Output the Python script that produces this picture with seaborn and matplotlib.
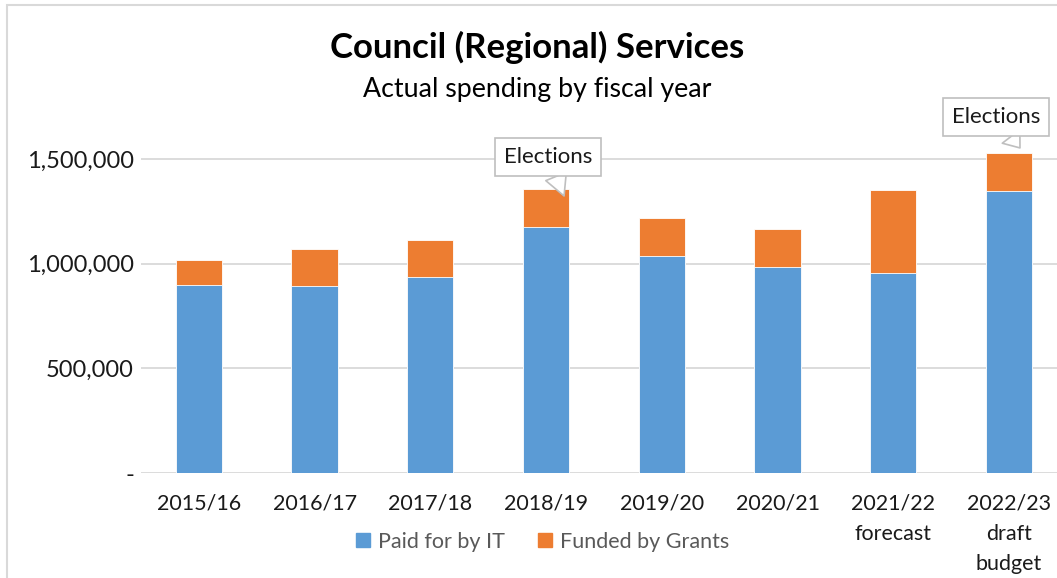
import matplotlib
matplotlib.use("Agg")
import matplotlib.pyplot as plt
import matplotlib.transforms as mtrans
import seaborn as sns
import pandas as pd
from matplotlib.patches import Rectangle
from matplotlib.lines import Line2D
from matplotlib.ticker import FuncFormatter

categories = ["2015/16", "2016/17", "2017/18", "2018/19", "2019/20", "2020/21",
              "2021/22\nforecast", "2022/23\ndraft\nbudget"]
paid_by_it = [898000, 893000, 936000, 1175000, 1037000, 984000, 955000, 1347000]
funded_by_grants = [119000, 177000, 177000, 182000, 181000, 182000, 397000, 182000]
annotation_idx = [3, 7]
annotation_text = ["Elections", "Elections"]
yticks = [0, 500000, 1000000, 1500000]

BLUE = "#5B9BD5"
ORANGE = "#ED7D31"
FONT = ["Lato", "DejaVu Sans"]

sns.set_theme(style="white")
plt.rcParams["font.family"] = FONT

df = pd.DataFrame({"cat": categories, "it": paid_by_it, "grants": funded_by_grants})
df["total"] = df["it"] + df["grants"]

W, H = 1057, 578
fig = plt.figure(figsize=(W / 100, H / 100), dpi=100)
left, right, bottom, top = 141, 1057, 473, 120
ax = fig.add_axes([left / W, (H - bottom) / H, (right - left) / W, (bottom - top) / H])

sns.barplot(data=df, x="cat", y="total", color=ORANGE, width=0.4, ax=ax,
            saturation=1, edgecolor="white", linewidth=0.6, zorder=3)
sns.barplot(data=df, x="cat", y="it", color=BLUE, width=0.4, ax=ax,
            saturation=1, edgecolor="white", linewidth=0.6, zorder=3)

px_per_unit = (473 - 159) / 1500000
ax.set_ylim(0, (bottom - top) / px_per_unit)
ax.set_xlim(-0.5, 7 + (right - 1009) / 115.7)
ax.set_yticks(yticks)
ax.yaxis.set_major_formatter(FuncFormatter(lambda v, p: "-" if v == 0 else f"{int(v):,}"))
ax.grid(axis="y", color="#D9D9D9", linewidth=1.3, zorder=0)
ax.set_axisbelow(True)
for s in ax.spines.values():
    s.set_visible(False)
ax.set_xlabel("")
ax.set_ylabel("")
ax.tick_params(axis="y", length=0, pad=5, labelsize=17, labelcolor="#1a1a1a")
ax.tick_params(axis="x", length=0, pad=15, labelsize=15.5, labelcolor="#1a1a1a")
for lab in ax.get_xticklabels():
    lab.set_linespacing(1.62)
    lab.set_verticalalignment("top")

# callouts: (tip offset px from bar-top centre, text offset px from tip)
tip_offsets = [(18, -7), (11, 5)]
text_offsets = [(-16, 39), (-24, 31)]
for k, i in enumerate(annotation_idx):
    tx, ty = tip_offsets[k]
    tr = mtrans.offset_copy(ax.transData, fig=fig, x=tx, y=ty, units="dots")
    ax.annotate(annotation_text[k], xy=(i, df["total"][i]), xycoords=tr,
                xytext=text_offsets[k], textcoords="offset pixels",
                ha="center", va="center", fontsize=16, color="#1a1a1a",
                bbox=dict(boxstyle="square,pad=0.4", fc="white", ec="#BFBFBF", lw=1.2),
                arrowprops=dict(arrowstyle="wedge,tail_width=1.0,shrink_factor=0.5",
                                fc="white", ec="#BFBFBF", lw=1.2, shrinkA=0, shrinkB=0),
                zorder=5)

fig.text(537 / W, 1 - 47 / H, "Council (Regional) Services", ha="center", va="center",
         fontsize=25, fontweight="bold", color="black")
fig.text(537 / W, 1 - 90 / H, "Actual spending by fiscal year", ha="center", va="center",
         fontsize=19.3, color="black")

handles = [Line2D([], [], marker="s", linestyle="", markersize=10.5, color=BLUE),
           Line2D([], [], marker="s", linestyle="", markersize=10.5, color=ORANGE)]
fig.legend(handles, ["Paid for by IT", "Funded by Grants"], loc="center",
           bbox_to_anchor=(542 / W, 1 - 542 / H), ncol=2, frameon=False,
           fontsize=15.5, handlelength=0.75, handletextpad=0.3, columnspacing=1.5,
           labelcolor="#595959")

fig.add_artist(Rectangle((7 / W, -0.05), 1.0, 1.05 - 5 / H, transform=fig.transFigure,
                         fill=False, ec="#D9D9D9", lw=1.5))

fig.savefig("out.png", dpi=100)
